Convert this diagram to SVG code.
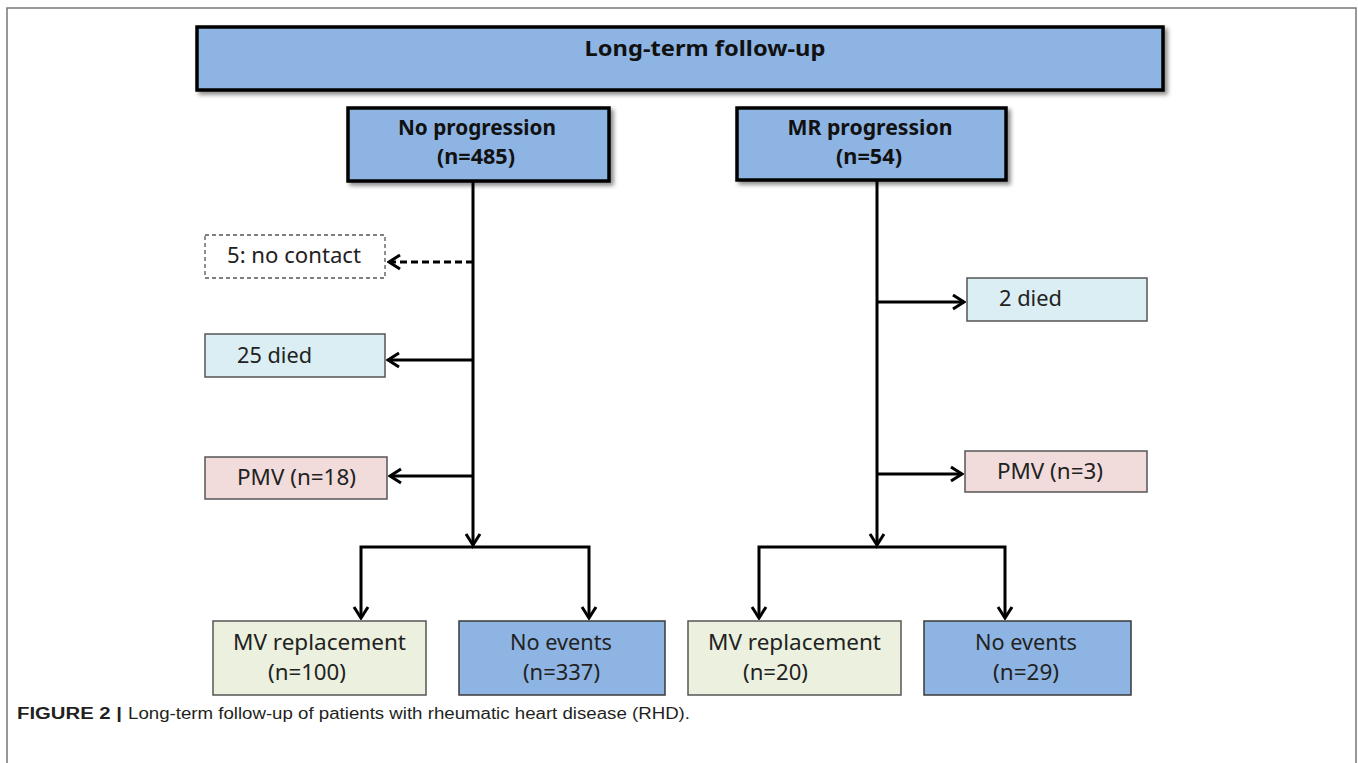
<svg xmlns="http://www.w3.org/2000/svg" width="1358" height="763" viewBox="0 0 1358 763">
<defs>
<filter id="sh" x="-5%" y="-20%" width="115%" height="150%">
<feDropShadow dx="3" dy="3" stdDeviation="2" flood-color="#000" flood-opacity="0.45"/>
</filter>
<marker id="ah" markerUnits="userSpaceOnUse" viewBox="-14 -10 16 20" refX="0" refY="0" markerWidth="16" markerHeight="20" orient="auto">
<path d="M-11,-7 L0,0 L-11,7" fill="none" stroke="#000" stroke-width="3"/>
</marker>
</defs>
<style>
.main{fill:#8EB4E3;stroke:#000;stroke-width:3.5}
.blue{fill:#8EB4E3;stroke:#3a3a3a;stroke-width:1.5}
.died{fill:#DAEEF3;stroke:#555;stroke-width:1.5}
.pmv{fill:#F2DCDB;stroke:#555;stroke-width:1.5}
.mvr{fill:#EBF1DE;stroke:#555;stroke-width:1.5}
.dash{fill:#fff;stroke:#555;stroke-width:1.3;stroke-dasharray:4 3}
.b{font-family:"Noto Sans","Liberation Sans",sans-serif;font-weight:bold;font-size:21px;fill:#111;text-anchor:middle}
.r{font-family:"Noto Sans","Liberation Sans",sans-serif;font-size:21px;fill:#222;text-anchor:middle}
.rl{font-family:"Noto Sans","Liberation Sans",sans-serif;font-size:21px;fill:#222}
.ln{fill:none;stroke:#000;stroke-width:3}
.cap{font-family:"Liberation Sans",Arial,sans-serif;font-size:16px;fill:#231f20}
</style>
<path d="M7,763 V8 H1356 V763" fill="none" stroke="#777" stroke-width="1.5"/>

<g id="top">
<rect class="main" x="197" y="27" width="966" height="63" filter="url(#sh)"/>
<text class="b" x="705" y="56" textLength="241" lengthAdjust="spacingAndGlyphs">Long-term follow-up</text>
</g>
<g id="noprog">
<rect class="main" x="348" y="108" width="261" height="73" filter="url(#sh)"/>
<text class="b" x="477" y="135" textLength="158" lengthAdjust="spacingAndGlyphs">No progression</text>
<text class="b" x="476" y="164" textLength="78" lengthAdjust="spacingAndGlyphs">(n=485)</text>
</g>
<g id="mrprog">
<rect class="main" x="737" y="108" width="269" height="72" filter="url(#sh)"/>
<text class="b" x="870" y="135" textLength="165" lengthAdjust="spacingAndGlyphs">MR progression</text>
<text class="b" x="869" y="164" textLength="66" lengthAdjust="spacingAndGlyphs">(n=54)</text>
</g>
<g id="nocontact">
<rect class="dash" x="205" y="235" width="180" height="43"/>
<text class="rl" x="227" y="263" textLength="134" lengthAdjust="spacingAndGlyphs">5: no contact</text>
</g>
<g id="died25">
<rect class="died" x="205" y="334" width="180" height="43"/>
<text class="rl" x="237" y="363" textLength="75" lengthAdjust="spacingAndGlyphs">25 died</text>
</g>
<g id="pmv18">
<rect class="pmv" x="205" y="457" width="182" height="42"/>
<text class="rl" x="237" y="485" textLength="119" lengthAdjust="spacingAndGlyphs">PMV (n=18)</text>
</g>
<g id="died2">
<rect class="died" x="967" y="278" width="180" height="43"/>
<text class="rl" x="999" y="306" textLength="63" lengthAdjust="spacingAndGlyphs">2 died</text>
</g>
<g id="pmv3">
<rect class="pmv" x="965" y="451" width="182" height="41"/>
<text class="rl" x="997" y="479" textLength="106" lengthAdjust="spacingAndGlyphs">PMV (n=3)</text>
</g>
<g id="mvr100">
<rect class="mvr" x="213" y="621" width="213" height="74"/>
<text class="r" x="319.5" y="650" textLength="173" lengthAdjust="spacingAndGlyphs">MV replacement</text>
<text class="r" x="307" y="680" textLength="78" lengthAdjust="spacingAndGlyphs">(n=100)</text>
</g>
<g id="noev337">
<rect class="blue" x="459" y="621" width="206" height="74"/>
<text class="r" x="561" y="650" textLength="102" lengthAdjust="spacingAndGlyphs">No events</text>
<text class="r" x="561.5" y="680" textLength="77" lengthAdjust="spacingAndGlyphs">(n=337)</text>
</g>
<g id="mvr20">
<rect class="mvr" x="688" y="621" width="213" height="74"/>
<text class="r" x="794.5" y="650" textLength="173" lengthAdjust="spacingAndGlyphs">MV replacement</text>
<text class="r" x="775.5" y="680" textLength="65" lengthAdjust="spacingAndGlyphs">(n=20)</text>
</g>
<g id="noev29">
<rect class="blue" x="924" y="621" width="207" height="74"/>
<text class="r" x="1026" y="650" textLength="102" lengthAdjust="spacingAndGlyphs">No events</text>
<text class="r" x="1026" y="680" textLength="66" lengthAdjust="spacingAndGlyphs">(n=29)</text>
</g>

<g id="connectors">
<path class="ln" d="M473,181 V545" marker-end="url(#ah)"/>
<path class="ln" d="M473,547 H361 V618" marker-end="url(#ah)"/>
<path class="ln" d="M472,547 H589 V618" marker-end="url(#ah)"/>
<path class="ln" d="M473,262 H389" stroke-dasharray="7 4" stroke-width="2.5" marker-end="url(#ah)"/>
<path class="ln" d="M473,360 H388" stroke-width="2.5" marker-end="url(#ah)"/>
<path class="ln" d="M473,476 H390" stroke-width="2.5" marker-end="url(#ah)"/>
<path class="ln" d="M877,180 V545" marker-end="url(#ah)"/>
<path class="ln" d="M877,547 H759 V618" marker-end="url(#ah)"/>
<path class="ln" d="M876,547 H1005 V618" marker-end="url(#ah)"/>
<path class="ln" d="M877,302 H964" stroke-width="2.5" marker-end="url(#ah)"/>
<path class="ln" d="M877,474 H962" stroke-width="2.5" marker-end="url(#ah)"/>
</g>

<text class="cap" x="17" y="719" font-weight="bold" textLength="105" lengthAdjust="spacingAndGlyphs">FIGURE 2 |</text>
<text class="cap" x="128" y="719" textLength="562" lengthAdjust="spacingAndGlyphs">Long-term follow-up of patients with rheumatic heart disease (RHD).</text>
</svg>
